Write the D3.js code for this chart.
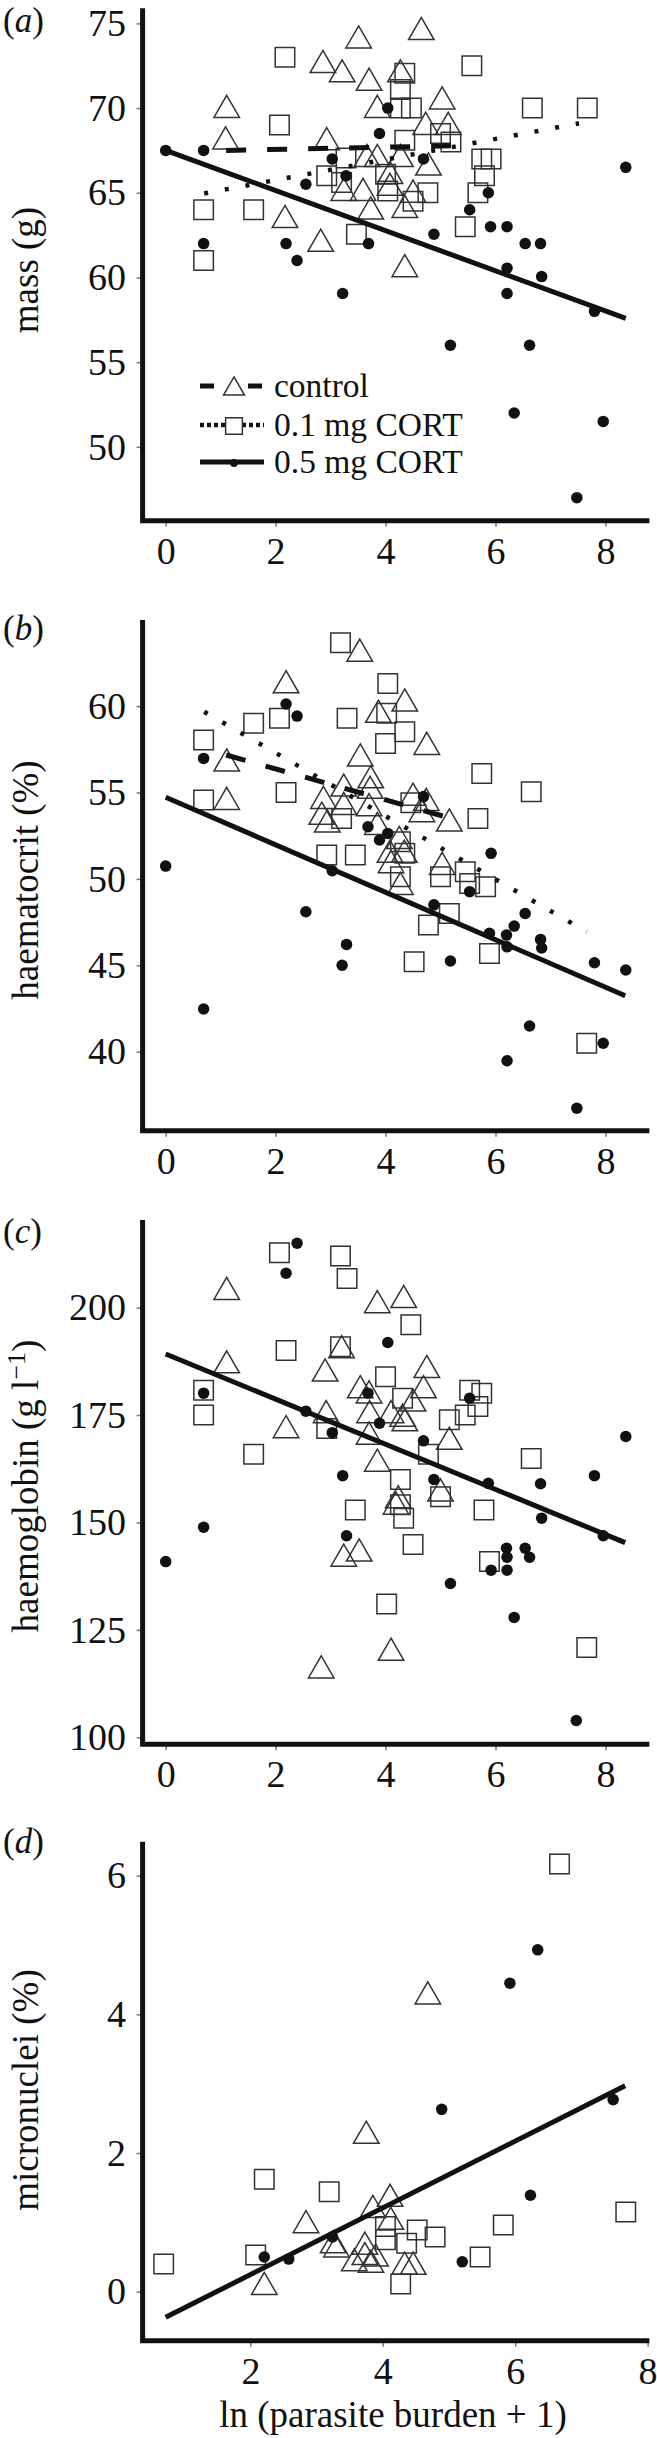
<!DOCTYPE html>
<html>
<head>
<meta charset="utf-8">
<script src="https://cdn.jsdelivr.net/npm/d3@7"></script>
<style>
  body { margin: 0; background: #fff; }
  svg { display: block; }
  text { font-family: "Liberation Serif", "Times New Roman", serif; fill: #111; }
</style>
</head>
<body>
<div id="figure"></div>
<script>
// x = ln(parasite burden + 1). Three groups: control, 0.1 mg CORT, 0.5 mg CORT
const groupNames = ["control", "0.1 mg CORT", "0.5 mg CORT"]

// (a) mass
const massControl = [[1.11,70.1],[1.09,68.24],[3.51,74.2],[4.65,74.7],[2.86,72.75],[3.21,72.2],[3.70,71.7],[4.27,72.2],[3.85,70.1],[5.03,70.6],[4.73,69.1],[5.14,69.1],[2.93,68.2],[3.85,67.2],[3.66,67.2],[4.27,67.2],[4.78,66.7],[4.08,66.2],[3.24,65.2],[3.59,65.2],[4.08,65.5],[4.50,65.1],[3.73,64.1],[4.35,64.2],[2.17,63.6],[2.82,62.2],[4.35,60.7]]
const massLow = [[2.17,73.0],[2.07,69.0],[0.69,64.0],[0.69,61.0],[1.60,64.0],[2.93,66.0],[3.28,67.05],[3.20,65.6],[3.47,62.55],[4.35,72.05],[4.27,71.1],[4.27,70.0],[4.47,70.0],[4.35,68.1],[4.0,66.1],[4.04,65.1],[4.50,64.5],[4.77,65.0],[5.0,68.5],[5.19,68.0],[5.75,67.0],[5.92,67.0],[5.80,66.0],[5.68,65.0],[5.45,63.0],[5.57,72.5],[6.67,70.0],[7.67,70.0]]
const massHigh = [[0.0,67.5],[0.69,67.5],[0.69,62.0],[2.19,62.0],[2.39,61.0],[2.55,65.5],[3.03,67.0],[3.28,66.0],[3.22,59.05],[3.69,62.0],[3.89,68.5],[4.04,70.0],[4.69,67.0],[4.88,62.55],[5.87,65.0],[5.53,64.0],[5.91,63.0],[6.21,63.0],[6.21,60.55],[6.21,59.05],[6.54,62.0],[6.82,62.0],[6.84,60.05],[8.37,66.5],[7.8,58.0],[5.18,56.0],[6.62,56.0],[6.34,52.0],[7.96,51.5],[7.48,47.0]]
const massFitControl = [[1.1,67.5],[5.19,67.77]]
const massFitLow = [[0.70,64.96],[7.52,69.1]]
const massFitHigh = [[0,67.5],[8.37,57.59]]
const massTicks = [50, 55, 60, 65, 70, 75]

// (b) haematocrit
const hctControl = [[1.11,54.66],[1.11,56.88],[2.19,61.41],[3.53,63.24],[3.54,57.17],[3.87,59.7],[4.35,60.35],[4.75,57.84],[3.73,55.91],[3.24,55.43],[3.72,55.3],[2.87,54.72],[3.24,54.37],[2.84,53.8],[2.94,53.35],[3.70,54.3],[4.50,54.9],[4.74,54.6],[4.66,53.95],[5.16,53.41],[3.85,53.21],[4.25,52.4],[4.08,51.6],[4.34,51.6],[4.10,51.0],[5.03,50.9],[4.27,49.74]]
const hctLow = [[0.69,58.03],[0.69,54.56],[1.60,59.0],[2.07,59.29],[2.19,55.0],[3.18,63.66],[3.30,59.29],[4.04,61.31],[4.02,59.58],[4.35,58.52],[4.0,57.84],[2.93,51.38],[3.45,51.38],[3.20,53.5],[4.46,54.41],[4.27,52.15],[4.35,51.48],[4.27,50.13],[5.0,50.13],[5.45,50.42],[5.53,49.74],[5.82,49.55],[5.68,53.5],[5.75,56.1],[6.65,55.04],[5.16,48.0],[4.78,47.33],[4.52,45.21],[5.89,45.69],[7.66,40.49]]
const hctHigh = [[0.0,50.74],[0.69,56.97],[2.19,60.12],[2.39,59.42],[3.03,50.47],[3.68,53.02],[3.89,52.25],[4.04,52.63],[4.69,54.76],[5.92,51.48],[5.53,49.26],[4.88,48.5],[6.54,48.0],[2.55,48.1],[3.29,46.21],[3.21,45.0],[0.69,42.47],[5.18,45.25],[5.89,46.85],[6.2,46.75],[6.34,47.27],[6.21,46.07],[6.82,46.5],[6.84,46.0],[7.8,45.15],[8.37,44.73],[6.62,41.49],[6.21,39.48],[7.96,40.49],[7.48,36.73]]
const hctFitControl = [[1.1,57.17],[5.13,53.56]]
const hctFitLow = [[0.70,59.67],[7.66,46.94]]
const hctFitHigh = [[0,54.72],[8.36,43.24]]
const hctTicks = [40, 45, 50, 55, 60]

// (c) haemoglobin
const hbControl = [[1.11,204.5],[1.11,187.4],[3.85,201.4],[4.33,202.6],[3.20,190.9],[2.90,185.5],[2.19,172.3],[2.92,175.8],[3.54,181.6],[3.70,180.4],[3.71,175.8],[4.10,175.8],[4.31,175.0],[4.35,173.9],[4.75,186.3],[4.69,181.6],[4.50,178.5],[5.16,169.6],[3.70,170.8],[3.85,164.5],[5.00,157.6],[4.23,156.0],[4.19,154.5],[3.24,142.4],[3.52,143.6],[4.10,120.5],[2.83,116.4]]
const hbLow = [[2.07,212.8],[3.18,212.0],[3.30,206.8],[4.46,196.0],[2.19,190.0],[3.18,190.9],[0.69,180.8],[0.69,175.0],[1.60,165.9],[2.93,171.9],[4.0,183.9],[4.31,178.9],[5.16,173.9],[5.45,175.0],[5.68,177.0],[5.53,180.8],[5.75,180.1],[4.78,165.9],[4.27,160.0],[6.65,164.9],[5.0,156.0],[3.45,152.9],[4.27,154.1],[5.79,152.9],[4.33,151.0],[4.50,144.9],[5.89,140.9],[4.02,131.0],[7.66,120.9]]
const hbHigh = [[2.39,215.0],[2.19,208.0],[4.04,191.9],[0.69,180.1],[2.55,175.9],[3.03,170.9],[3.68,180.1],[3.89,173.1],[5.53,178.9],[4.69,169.0],[3.22,160.9],[4.88,160.0],[5.87,159.1],[6.82,159.0],[7.80,160.9],[8.37,170.0],[6.84,151.0],[0.0,140.9],[0.69,148.9],[3.29,146.9],[7.96,146.9],[6.2,144.0],[6.21,141.9],[6.54,144.0],[6.62,141.9],[5.92,138.9],[6.21,138.9],[5.18,135.8],[6.34,127.9],[7.47,103.9]]
const hbFit = [[0,189.2],[8.36,145.3]]
const hbTicks = [100, 125, 150, 175, 200]

// (d) micronuclei
const mnControl = [[4.68,4.31],[3.75,2.3],[2.21,0.12],[2.84,1.01],[3.25,0.72],[3.30,0.66],[3.73,0.70],[3.57,0.46],[3.73,0.55],[3.89,0.53],[3.82,0.44],[3.85,1.23],[4.11,1.39],[4.12,1.06],[4.33,0.41],[4.46,0.41]]
const mnLow = [[6.67,6.17],[0.69,0.40],[2.21,1.62],[2.08,0.53],[3.19,1.44],[4.04,0.94],[4.04,0.75],[4.36,0.70],[4.52,0.89],[4.79,0.79],[4.27,0.11],[5.47,0.50],[5.82,0.96],[7.67,1.15]]
const mnHigh = [[6.34,4.93],[5.92,4.45],[4.89,2.63],[7.48,2.77],[2.21,0.50],[2.58,0.47],[3.24,0.79],[5.20,0.43],[6.23,1.39]]
const mnFit = [[0.72,-0.37],[7.66,2.97]]
const mnTicks = [0, 2, 4, 6]

const xTicksMain = [0, 2, 4, 6, 8]
const xTicksD = [2, 4, 6, 8]

const width = 657, height = 2438
const plotLeft = 142.6, plotRight = 649.4

const svg = d3.select("#figure").append("svg")
    .attr("width", width)
    .attr("height", height)

// line styles: dashed = control, dotted = 0.1 mg, solid = 0.5 mg / pooled
const lineStyles = {
    dashed: { dash: "20,21", w: 5 },
    dotted: { dash: "4,17", w: 4.5 },
    solid: { dash: null, w: 5 }
}

const shapes = [
    { sym: d3.symbolTriangle, size: 282, fill: "none", stroke: "#333", dy: 3.7 },
    { sym: d3.symbolSquare, size: 380, fill: "none", stroke: "#333", dy: 0 },
    { sym: d3.symbolCircle, size: 104, fill: "#111", stroke: "none", dy: 0 }
]

const panels = [
    { label: "a", title: "mass (g)", top: 8.3, bottom: 520.7, titleMid: 270, labelBase: 32,
      xDomain: [-0.42, 8.8], yDomain: [45.64, 75.89], yTicks: massTicks, xTicks: xTicksMain,
      series: [massControl, massLow, massHigh],
      fits: [[massFitControl, "dashed"], [massFitLow, "dotted"], [massFitHigh, "solid"]] },
    { label: "b", title: "haematocrit (%)", top: 620, bottom: 1130.7, titleMid: 880, labelBase: 640,
      xDomain: [-0.42, 8.8], yDomain: [35.43, 64.98], yTicks: hctTicks, xTicks: xTicksMain,
      series: [hctControl, hctLow, hctHigh],
      fits: [[hctFitControl, "dashed"], [hctFitLow, "dotted"], [hctFitHigh, "solid"]] },
    { label: "c", title: null, top: 1220, bottom: 1744.3, titleMid: 1486, labelBase: 1243,
      xDomain: [-0.42, 8.8], yDomain: [98.37, 220.4], yTicks: hbTicks, xTicks: xTicksMain,
      series: [hbControl, hbLow, hbHigh],
      fits: [[hbFit, "solid"]] },
    { label: "d", title: "micronuclei (%)", top: 1841.7, bottom: 2340.7, titleMid: 2090, labelBase: 1853,
      xDomain: [0.372, 8.027], yDomain: [-0.707, 6.49], yTicks: mnTicks, xTicks: xTicksD,
      series: [mnControl, mnLow, mnHigh],
      fits: [[mnFit, "solid"]] }
]

panels.forEach(function (p) {
    const g = svg.append("g")
    const x = d3.scaleLinear().domain(p.xDomain).range([plotLeft, plotRight])
    const y = d3.scaleLinear().domain(p.yDomain).range([p.bottom, p.top])

    // tick marks and labels
    const xa = g.append("g")
        .attr("transform", `translate(0, ${p.bottom})`)
        .call(d3.axisBottom(x).tickValues(p.xTicks).tickSize(6).tickPadding(10))
    const ya = g.append("g")
        .attr("transform", `translate(${plotLeft}, 0)`)
        .call(d3.axisLeft(y).tickValues(p.yTicks).tickSize(6).tickPadding(10.5))
    ;[xa, ya].forEach(function (a) {
        a.select(".domain").remove()
        a.selectAll(".tick line").attr("stroke", "#777").attr("stroke-width", 1.5)
        a.selectAll(".tick text")
            .style("font-family", '"Liberation Serif", "Times New Roman", serif')
            .style("font-size", "38px")
            .attr("fill", "#111")
    })

    // points
    p.series.forEach(function (pts, i) {
        const s = shapes[i]
        g.selectAll(null)
            .data(pts)
            .join("path")
            .attr("d", d3.symbol(s.sym, s.size))
            .attr("transform", d => `translate(${x(d[0])}, ${y(d[1]) + s.dy})`)
            .attr("fill", s.fill)
            .attr("stroke", s.stroke)
            .attr("stroke-width", 1.5)
    })

    // regression lines
    const line = d3.line().x(d => x(d[0])).y(d => y(d[1]))
    p.fits.forEach(function (f) {
        const st = lineStyles[f[1]]
        g.append("path")
            .datum(f[0])
            .attr("d", line)
            .attr("fill", "none")
            .attr("stroke", "#111")
            .attr("stroke-width", st.w)
            .attr("stroke-dasharray", st.dash)
    })

    // axis lines
    g.append("line")
        .attr("x1", x(p.xDomain[0])).attr("x2", x(p.xDomain[0]))
        .attr("y1", y(p.yDomain[1])).attr("y2", y(p.yDomain[0]))
        .attr("stroke", "#111").attr("stroke-width", 5)
    g.append("line")
        .attr("x1", x(p.xDomain[0]) - 2.5).attr("x2", x(p.xDomain[1]))
        .attr("y1", y(p.yDomain[0])).attr("y2", y(p.yDomain[0]))
        .attr("stroke", "#111").attr("stroke-width", 5)

    // panel letter
    const lab = g.append("text").attr("x", 3).attr("y", p.labelBase).style("font-size", "35px")
    lab.append("tspan").text("(")
    lab.append("tspan").style("font-style", "italic").text(p.label)
    lab.append("tspan").text(")")

    // y title
    const t = g.append("text")
        .attr("transform", `translate(38, ${p.titleMid}) rotate(-90)`)
        .attr("text-anchor", "middle")
        .style("font-size", "37px")
    if (p.title) {
        t.text(p.title)
    } else {
        t.append("tspan").text("haemoglobin (g l")
        t.append("tspan").attr("dy", -13).style("font-size", "26px").text("\u22121")
        t.append("tspan").attr("dy", 13).text(")")
    }
})

// x title
svg.append("text")
    .attr("x", 393)
    .attr("y", 2427)
    .attr("text-anchor", "middle")
    .style("font-size", "37px")
    .text("ln (parasite burden + 1)")

// legend in panel (a)
const legendRows = [386, 425, 462]
const legendKinds = ["dashed", "dotted", "solid"]
const legendSizes = [190, 280, 48]
const legend = svg.append("g")
groupNames.forEach(function (name, i) {
    const ly = legendRows[i]
    const st = lineStyles[legendKinds[i]]
    legend.append("line")
        .attr("x1", 200).attr("x2", 264)
        .attr("y1", ly).attr("y2", ly)
        .attr("stroke", "#111")
        .attr("stroke-width", st.w)
        .attr("stroke-dasharray", i === 0 ? "14,34,14" : (i === 1 ? "4,3" : null))
    legend.append("path")
        .attr("d", d3.symbol(shapes[i].sym, legendSizes[i]))
        .attr("transform", `translate(234, ${ly + (i === 0 ? 3 : 1)})`)
        .attr("fill", shapes[i].fill === "none" ? "#fff" : shapes[i].fill)
        .attr("stroke", shapes[i].stroke)
        .attr("stroke-width", 1.5)
    legend.append("text")
        .attr("x", 274)
        .attr("y", ly + 11)
        .style("font-size", "33.5px")
        .text(name)
})
</script>
</body>
</html>
